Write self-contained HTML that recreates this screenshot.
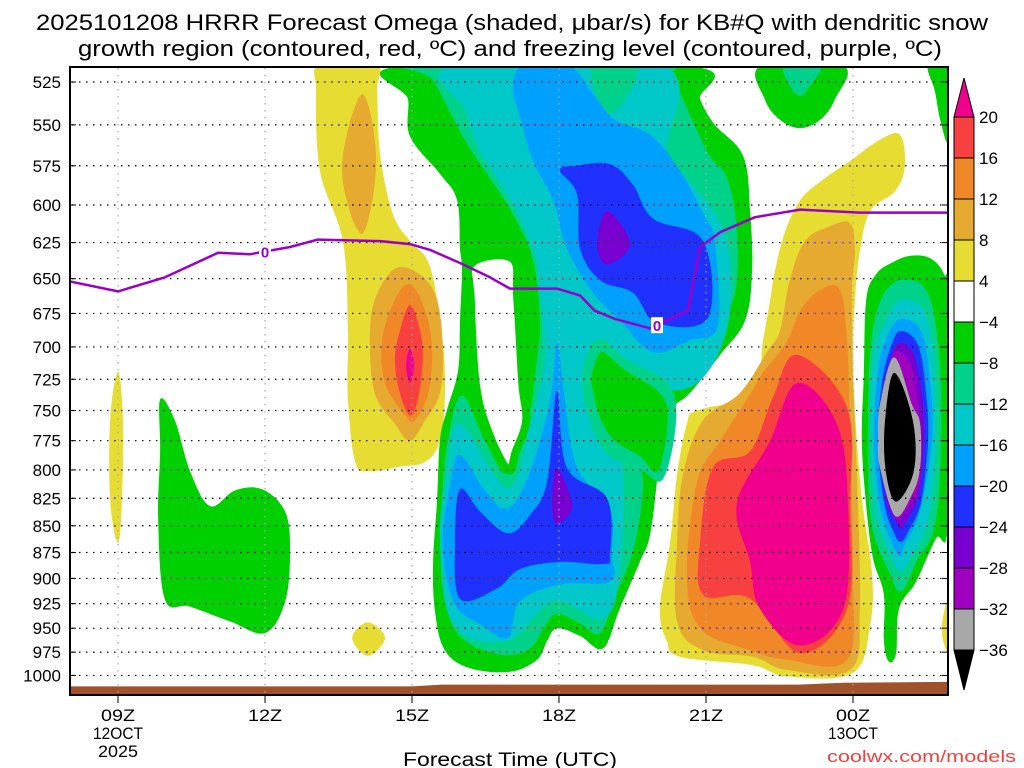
<!DOCTYPE html>
<html><head><meta charset="utf-8">
<style>
html,body{margin:0;padding:0;background:#fff;}
svg{display:block;font-family:"Liberation Sans",sans-serif;}
</style></head>
<body>
<svg id="chart" width="1024" height="768" viewBox="0 0 1024 768" xmlns="http://www.w3.org/2000/svg">
<defs><clipPath id="plotclip"><rect x="70" y="67" width="878" height="628"/></clipPath></defs>
<rect x="0" y="0" width="1024" height="768" fill="#fff"/>
<text x="512" y="30" text-anchor="middle" font-size="22" textLength="952" lengthAdjust="spacingAndGlyphs">2025101208 HRRR Forecast Omega (shaded, μbar/s) for KB#Q with dendritic snow</text>
<text x="510" y="56" text-anchor="middle" font-size="22" textLength="864" lengthAdjust="spacingAndGlyphs">growth region (contoured, red, ºC) and freezing level (contoured, purple, ºC)</text>
<g id="shading" clip-path="url(#plotclip)"></g>
<g id="grid"></g>
<g id="frz" clip-path="url(#plotclip)"></g>
<rect x="70" y="67" width="878" height="628" fill="none" stroke="#000" stroke-width="2"/>
<g id="axes"></g>
<g id="cbar"></g>
<text x="510" y="766" text-anchor="middle" font-size="19" textLength="214" lengthAdjust="spacingAndGlyphs">Forecast Time (UTC)</text>
<text x="1016" y="762" text-anchor="end" font-size="17" fill="#f04040" textLength="189" lengthAdjust="spacingAndGlyphs">coolwx.com/models</text>
</svg>
<script>
// ---- data ----
const pressureTicks = [525,550,575,600,625,650,675,700,725,750,775,800,825,850,875,900,925,950,975,1000];
const timeTicks = [9,12,15,18,21,24];
const timeLabels = ["09Z","12Z","15Z","18Z","21Z","00Z"];
const dateLabels = {9:["12OCT","2025"],24:["13OCT"]};
const cbarLevels = [20,16,12,8,4,-4,-8,-12,-16,-20,-24,-28,-32,-36];
const frzHours = [8.02,9,9.96,11.04,11.69,12.51,13.08,14.35,14.96,15.37,15.98,16.59,17,17.96,18.43,18.73,19.14,19.86,20.63,20.88,21.29,22,22.92,24.14,25.94];
const frzPres  = [652,659,649,632,633,628,623,624,626,630,639,649,657,657,662,673,679,686,673,628,618,608,603,605,605];
const frzLabelHours = [12,20];
const groundHours = [8,15,15.6,22.9,23.3,23.8,26];
const groundPres  = [1012,1012,1010,1010,1009,1008,1007];
// omega shading regions: [band, [[hour,pressure],...]]
const regions = [
 ["y",[[9,719],[9.1,757],[9.08,827],[9,866],[8.84,827],[8.84,757]]],
 ["g",[[9.86,741],[10.16,758],[10.47,801],[10.88,832],[11.39,818],[11.94,817],[12.41,837],[12.51,874],[12.41,923],[12,955],[11.29,943],[10.47,928],[9.96,921],[9.82,846],[9.86,784]]],
 ["y",[[13.78,960],[14.1,944],[14.45,960],[14.1,979]]],
 ["y",[[13.12,516],[14.27,516],[14.29,530],[14.35,568],[14.61,606],[14.96,624],[15.37,642],[15.63,697],[15.67,741],[15.57,775],[15.27,793],[14.76,797],[14.14,801],[13.84,793],[13.69,739],[13.69,686],[13.59,624],[13.12,578],[13.04,530]]],
 ["od",[[13.98,532],[14.27,572],[13.98,619],[13.57,577]]],
 ["od",[[14.65,643],[15.16,647],[15.51,665],[15.63,702],[15.57,736],[15.27,758],[14.96,775],[14.65,761],[14.24,736],[14.14,695],[14.24,665]]],
 ["o",[[14.96,654],[15.27,673],[15.41,702],[15.33,736],[15.06,758],[14.86,754],[14.45,728],[14.39,695],[14.65,665]]],
 ["r",[[14.96,669],[15.16,687],[15.22,710],[15.12,741],[14.96,754],[14.76,737],[14.65,710],[14.76,687]]],
 ["p",[[14.96,701],[15.04,714],[14.96,728],[14.88,714]]],
 ["g",[[14.76,516],[14.92,535],[14.96,557],[15.57,580],[15.92,597],[15.98,629],[16.02,644],[15.98,680],[15.94,718],[15.71,750],[15.57,775],[15.51,828],[15.43,884],[15.47,933],[15.67,973],[16.18,992],[17,996],[17.55,983],[17.76,963],[17.96,950],[18.43,958],[18.9,971],[19.24,930],[19.65,884],[19.86,858],[20.02,801],[20.12,756],[20.67,736],[21.29,706],[21.8,680],[21.94,644],[21.9,604],[21.76,569],[21.18,550],[20.88,535],[20.67,516]]],
 ["t",[[15.12,516],[15.43,524],[16.04,557],[16.53,580],[17.06,606],[17.47,637],[17.61,680],[17.55,710],[17.37,758],[16.96,803],[16.49,775],[16.02,738],[15.73,775],[15.61,828],[15.61,884],[15.73,933],[16.08,963],[16.86,978],[17.41,971],[17.71,948],[17.96,935],[18.43,945],[18.84,955],[19.14,918],[19.51,874],[19.71,818],[19.65,780],[19.92,736],[20.88,699],[21.55,665],[21.63,618],[21.43,583],[21.02,566],[20.33,524],[19.94,516]]],
 ["c",[[15.8,516],[16.08,541],[16.39,566],[16.94,593],[17.47,629],[17.61,660],[17.71,695],[17.67,720],[17.41,761],[16.96,816],[15.98,761],[15.71,804],[15.57,865],[15.84,946],[16.94,963],[17.88,923],[18.9,940],[19.24,893],[19.29,793],[18.84,758],[18.63,728],[18.84,695],[19.24,706],[20.06,732],[20.88,726],[21.43,686],[21.49,637],[21.22,608],[20.67,585],[20.2,566],[20.12,516]]],
 ["t",[[18.69,516],[18.84,540],[18.98,545],[19.35,535],[19.59,516]]],
 ["lb",[[17.27,516],[17.06,528],[17.2,545],[17.47,572],[17.88,597],[18.16,629],[18.69,660],[19.24,680],[19.92,704],[20.67,695],[21.24,684],[21.18,624],[20.98,608],[20.47,578],[19.86,556],[19.14,547],[18.73,533],[18.2,516]]],
 ["lb",[[15.98,787],[16.49,818],[16.96,834],[17.41,801],[17.82,741],[17.96,696],[18.12,741],[18.37,798],[19.04,834],[19.08,877],[19.04,903],[18.02,906],[17.2,923],[16.96,960],[16.39,946],[15.84,923],[15.63,865],[15.78,812]]],
 ["b",[[18.02,578],[18.37,593],[18.43,629],[18.84,651],[19.51,660],[20,682],[21.04,678],[20.94,624],[19.92,609],[19.51,587],[19.04,574],[18.33,575]]],
 ["v",[[18.98,604],[19.45,626],[18.98,640],[18.78,626]]],
 ["b",[[15.98,817],[16.39,837],[16.96,857],[17.41,840],[17.76,810],[17.96,734],[18.16,798],[18.98,825],[19.04,877],[18.9,886],[18.02,884],[17.2,891],[16.73,910],[15.98,920],[15.88,865]]],
 ["v",[[17.96,799],[18.27,832],[17.96,848],[17.86,830]]],
 ["t",[[18.84,695],[19.45,711],[20.22,728],[20.39,758],[20.12,808],[19.65,799],[18.98,786],[18.63,758],[18.47,728],[18.59,704]]],
 ["g",[[18.9,704],[19.35,718],[20.06,736],[20.22,758],[20.02,801],[19.65,788],[19.14,775],[18.84,756],[18.67,728],[18.73,713]]],
 ["w",[[16.22,639],[17.05,636],[17.15,665],[17.25,728],[17.33,758],[17.12,784],[16.96,800],[16.55,767],[16.3,728],[16.2,665]]],
 ["g",[[22.12,516],[23.8,516],[23.63,535],[23.33,547],[22.92,552],[22.51,547],[22.2,535]]],
 ["t",[[22.61,516],[23.33,516],[23.12,527],[22.92,533],[22.71,527]]],
 ["g",[[25.53,516],[25.94,516],[25.94,559],[25.78,547],[25.67,530]]],
 ["y",[[25.94,923],[25.94,973],[25.82,958],[25.84,938]]],
 ["y",[[22.16,696],[21.96,736],[20.82,750],[20.61,761],[20.41,804],[20.27,865],[20.06,930],[20.2,963],[20.47,980],[21.96,989],[22.65,1001],[24,997],[24.35,946],[24.39,896],[24.2,832],[24.08,775],[24,710],[24.04,665],[24.14,631],[24.35,604],[24.86,591],[25.06,575],[24.96,556],[24.55,559],[23.94,572],[23.33,585],[22.92,597],[22.61,618],[22.41,644],[22.31,665]]],
 ["od",[[20.94,758],[20.53,804],[20.41,865],[20.41,943],[20.94,973],[21.96,980],[22.65,994],[23.94,994],[24.14,930],[24.08,804],[24,722],[23.98,658],[24.04,631],[23.94,612],[23.53,614],[23.02,624],[22.71,651],[22.51,688],[22.24,704],[21.69,736]]],
 ["o",[[21.29,775],[20.82,810],[20.61,896],[20.88,950],[21.9,973],[22.65,983],[23.88,983],[24,896],[23.94,775],[23.88,696],[23.73,658],[23.33,658],[22.92,673],[22.65,696],[22.16,720],[21.9,737]]],
 ["r",[[22.86,706],[23.88,748],[23.94,832],[23.88,930],[22.92,976],[21.9,920],[20.94,916],[20.88,865],[21.14,798],[21.9,784],[22.37,739]]],
 ["p",[[22.86,728],[23.67,761],[23.9,832],[23.8,930],[22.92,968],[22.1,930],[21.9,884],[21.63,830],[22.31,775]]],
 ["g",[[24.78,639],[25.18,634],[25.59,636],[25.86,647],[25.94,665],[25.94,846],[25.69,862],[25.29,903],[24.94,930],[24.88,976],[24.73,985],[24.63,963],[24.63,916],[24.41,881],[24.27,832],[24.18,775],[24.22,722],[24.27,665],[24.47,647]]],
 ["t",[[24.98,651],[25.49,658],[25.73,695],[25.8,758],[25.69,846],[25.29,884],[24.98,913],[24.73,893],[24.37,846],[24.31,775],[24.35,704],[24.57,665]]],
 ["c",[[24.98,665],[25.45,673],[25.65,710],[25.69,775],[25.53,846],[25.18,879],[24.98,893],[24.78,879],[24.47,837],[24.37,775],[24.41,710],[24.67,680]]],
 ["lb",[[24.98,679],[25.39,688],[25.57,725],[25.61,775],[25.37,837],[25.04,869],[24.98,879],[24.82,869],[24.55,832],[24.43,775],[24.51,718],[24.71,691]]],
 ["b",[[24.98,688],[25.33,699],[25.49,736],[25.53,775],[25.39,828],[25.12,856],[24.98,865],[24.84,857],[24.63,828],[24.51,775],[24.59,728],[24.78,699]]],
 ["v",[[24.98,697],[25.24,706],[25.41,739],[25.45,775],[25.33,823],[25.08,846],[24.98,853],[24.88,846],[24.67,823],[24.59,775],[24.67,736],[24.8,706]]],
 ["pu",[[24.9,703],[25.18,714],[25.33,746],[25.4,775],[25.35,815],[25.04,839],[24.9,845],[24.75,832],[24.6,800],[24.55,775],[24.6,741],[24.75,712]]],
 ["gr",[[24.84,708],[25.2,745],[25.37,761],[25.37,798],[25.2,822],[24.86,841],[24.55,798],[24.51,775],[24.55,745]]],
 ["k",[[24.84,720],[25.22,758],[25.24,801],[24.88,828],[24.67,801],[24.65,761]]]
];
// ---- styles ----
const bandColor = {p:"#f0008c",r:"#f84040",o:"#f08828",od:"#e6aa30",y:"#e6dc32",w:"#ffffff",g:"#00d000",t:"#00d28c",c:"#00c8c8",lb:"#00a0ff",b:"#2030ff",v:"#7800d0",pu:"#a000c0",gr:"#a8a8a8",k:"#000000"};
const cbarColors = ["#f84040","#f08828","#e6aa30","#e6dc32","#ffffff","#00d000","#00d28c","#00c8c8","#00a0ff","#2030ff","#7800d0","#a000c0","#a8a8a8"];
const NS="http://www.w3.org/2000/svg";
const X = h => 118 + (h-9)*49;
const Y = p => 82 + 921*Math.log(p/525);
function mk(tag, attrs, parent){const e=document.createElementNS(NS,tag);for(const k in attrs)e.setAttribute(k,attrs[k]);parent.appendChild(e);return e;}
function smoothPath(pts){
  const P=pts.map(q=>[X(q[0]),Y(q[1])]);const n=P.length;let d=`M${P[0][0].toFixed(1)},${P[0][1].toFixed(1)}`;
  for(let i=0;i<n;i++){const p0=P[(i-1+n)%n],p1=P[i],p2=P[(i+1)%n],p3=P[(i+2)%n];const t=0.35;
    const c1=[p1[0]+(p2[0]-p0[0])*t/2,p1[1]+(p2[1]-p0[1])*t/2],c2=[p2[0]-(p3[0]-p1[0])*t/2,p2[1]-(p3[1]-p1[1])*t/2];
    d+=`C${c1[0].toFixed(1)},${c1[1].toFixed(1)} ${c2[0].toFixed(1)},${c2[1].toFixed(1)} ${p2[0].toFixed(1)},${p2[1].toFixed(1)}`;}
  return d+"Z";
}
const shading=document.getElementById('shading');
regions.forEach((r,i)=>{
  const path=mk('path',{d:smoothPath(r[1]),fill:bandColor[r[0]]},shading);
  if(r[0]==='w'){path.setAttribute('stroke',bandColor.g);path.setAttribute('stroke-width','8');}
  
  
});
// ground
let gd=`M${X(groundHours[0])},700`;
groundHours.forEach((h,i)=>{gd+=`L${X(h)},${Y(groundPres[i]).toFixed(1)}`;});
gd+=`L${X(groundHours[groundHours.length-1])},700Z`;
const ground=mk('path',{d:gd,fill:"#a0522d"},shading);


// grid
const grid=document.getElementById('grid');
pressureTicks.forEach(p=>{
  const l=mk('line',{x1:72,x2:946,y1:Y(p),y2:Y(p),stroke:"#000","stroke-width":1.2,"stroke-dasharray":"1.5,5.5"},grid);
  
  
});
timeTicks.forEach(h=>{
  const l=mk('line',{x1:X(h),x2:X(h),y1:68,y2:694,stroke:"#aaa","stroke-width":1.2,"stroke-dasharray":"1.5,5.5"},grid);
  
  
});
// freezing level
const frz=document.getElementById('frz');
const fd=frzHours.map((h,i)=>(i?'L':'M')+X(h).toFixed(1)+','+Y(frzPres[i]).toFixed(1)).join('');
const fl=mk('path',{d:fd,fill:"none",stroke:"#9a00c8","stroke-width":2.5,"stroke-linejoin":"round"},frz);


frzLabelHours.forEach(h=>{
  let k=0;while(k<frzHours.length-2&&frzHours[k+1]<h)k++;
  const f=(h-frzHours[k])/(frzHours[k+1]-frzHours[k]);const p=frzPres[k]+f*(frzPres[k+1]-frzPres[k]);
  mk('rect',{x:X(h)-6,y:Y(p)-8,width:12,height:16,fill:"#fff"},frz);
  const t=mk('text',{x:X(h),y:Y(p)+6,"text-anchor":"middle","font-size":15,"font-weight":"bold",fill:"#9a00c8"},frz);
  t.textContent="0";
  
  
});
// axes
const axes=document.getElementById('axes');
pressureTicks.forEach(p=>{
  mk('line',{x1:70,x2:76,y1:Y(p),y2:Y(p),stroke:"#000"},axes);
  mk('line',{x1:942,x2:948,y1:Y(p),y2:Y(p),stroke:"#000"},axes);
  const t=mk('text',{x:61,y:Y(p)+6,"text-anchor":"end","font-size":17},axes);
  t.textContent=p;
  
  
});
timeTicks.forEach((h,i)=>{
  mk('line',{x1:X(h),x2:X(h),y1:695,y2:703,stroke:"#000"},axes);
  const t=mk('text',{x:X(h),y:721,"text-anchor":"middle","font-size":17,textLength:34,lengthAdjust:"spacingAndGlyphs"},axes);
  t.textContent=timeLabels[i];
  
  
  (dateLabels[h]||[]).forEach((s,j)=>{
    const d=mk('text',{x:X(h),y:739+j*18,"text-anchor":"middle","font-size":17,textLength:s.length*10,lengthAdjust:"spacingAndGlyphs"},axes);
    d.textContent=s;
    
    
  });
});
// colorbar
const cb=document.getElementById('cbar');
const cx=954,cw=20,cy0=117,ch=41;
const tri=mk('path',{d:`M${cx},${cy0}L${cx+cw/2},78L${cx+cw},${cy0}Z`,fill:"#f0008c",stroke:"#000"},cb);


cbarColors.forEach((c,i)=>{
  const r=mk('rect',{x:cx,y:cy0+i*ch,width:cw,height:ch,fill:c,stroke:"#000","stroke-width":1},cb);
  
  
});
const yb=cy0+cbarColors.length*ch;
const tri2=mk('path',{d:`M${cx},${yb}L${cx+cw/2},690L${cx+cw},${yb}Z`,fill:"#000",stroke:"#000"},cb);


cbarLevels.forEach((v,i)=>{
  const t=mk('text',{x:979,y:cy0+i*ch+6,"font-size":17},cb);
  t.textContent=(v<0?"−":"")+Math.abs(v);
  
  
});
</script>
</body></html>
